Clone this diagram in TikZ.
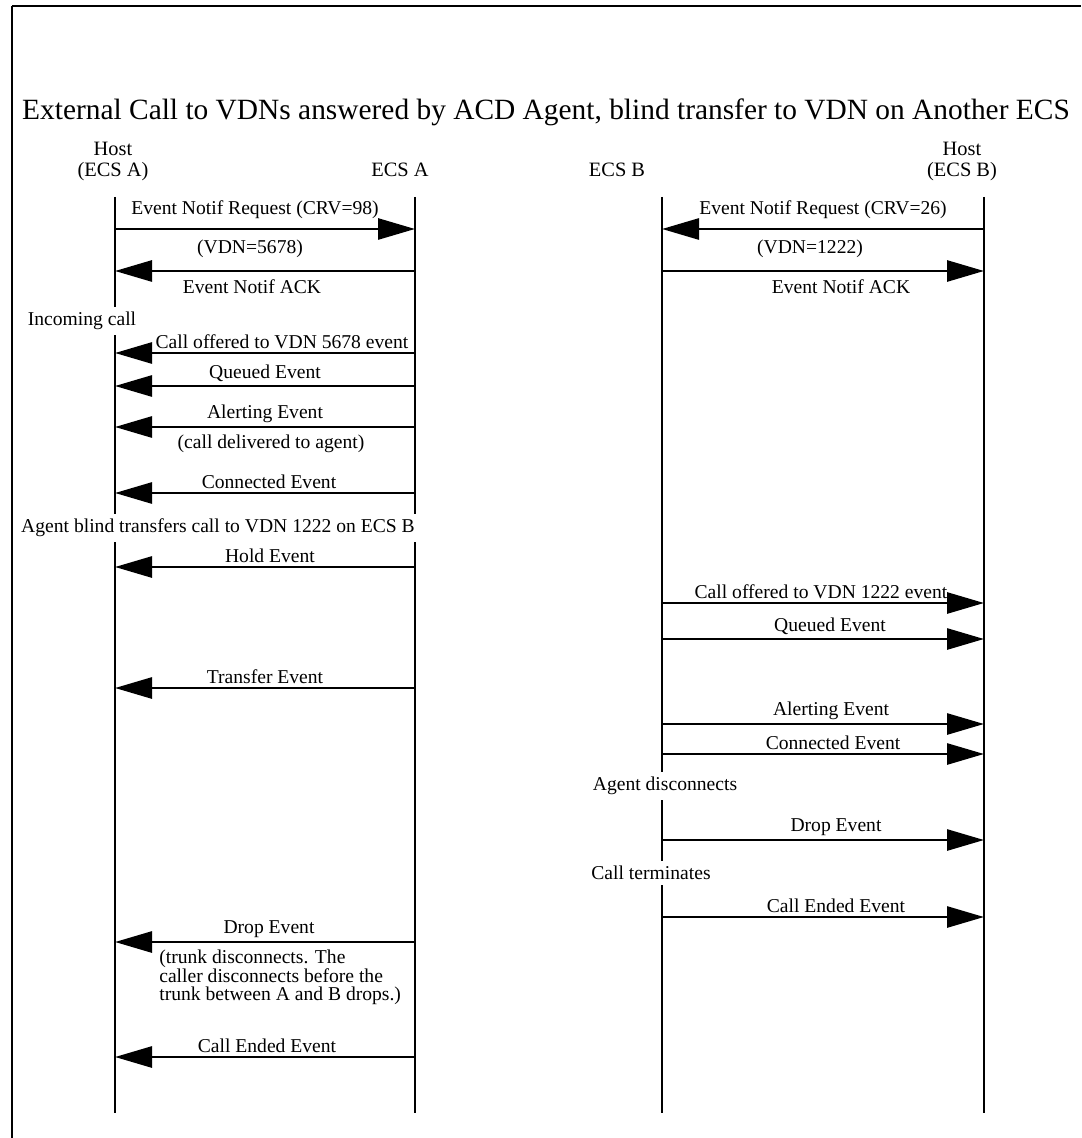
\documentclass[tikz,border=0pt]{standalone}
\usepackage{fontspec}
\setmainfont{Liberation Serif}
\usepackage{tikz}
\usetikzlibrary{arrows.meta,positioning}
\newcommand{\lblfont}{\fontsize{9.8}{8.8}\selectfont}
\tikzset{
  sqhead/.style={align=center,font=\fontsize{10.2}{10.5}\selectfont,inner sep=0pt},
  sqlife/.style={line width=1.4pt},
  sqmsg/.style={-{Triangle[length=18.5pt,width=10.5pt]},line width=1.4pt},
  sqlbl/.style={font=\lblfont,inner sep=1.5pt},
  sqnote/.style={font=\lblfont,fill=white,inner sep=2.5pt},
}

\begin{document}
\begin{tikzpicture}[x=0.5pt,y=-0.5pt]
\useasboundingbox (0,0) rectangle (1081,1138);
% frame
\draw[line width=1.4pt] (12,6) -- (1081,6);
\draw[line width=0.65pt] (12,6) -- (12,1138);
\node[font=\fontsize{14.7}{14.7}\selectfont] (title) at (546,112)
  {External Call to VDNs answered by ACD Agent, blind transfer to VDN on Another ECS};
% heads and lifelines
\node[sqhead] (hostA) at (113,161) {Host\\(ECS A)};
\node[sqhead] (ecsA) at (400,170) {ECS A};
\node[sqhead] (ecsB) at (617,170) {ECS B};
\node[sqhead] (hostB) at (962,161) {Host\\(ECS B)};
\coordinate (hA) at (115,197);
\coordinate (eA) at (415,197);
\coordinate (eB) at (662,197);
\coordinate (hB) at (984,197);
\coordinate (bot) at (0,1113);
\foreach \l in {hA,eA,eB,hB}
  \draw[sqlife] (\l) -- (\l |- bot);
% message rows
\foreach \n/\y in {q1/229,q2/271,a1/353,a2/386,a3/427,a4/493,a5/567,a6/688,a7/942,a8/1057,
                   b1/603,b2/639,b3/724,b4/754,b5/840,b6/917}
  \coordinate (\n) at (0,\y);
% ECS A side
\draw[sqmsg] (hA |- q1) -- node[sqlbl,above,xshift=-5pt,yshift=3pt]{Event Notif Request (CRV=98)}
  node[sqlbl,below=3.5pt,xshift=-7.5pt]{(VDN=5678)} (eA |- q1);
\draw[sqmsg] (eA |- q2) -- node[sqlbl,below=2pt,xshift=-6.5pt]{Event Notif ACK} (hA |- q2);
\draw[sqmsg] (eA |- a1) -- node[sqlbl,above,xshift=8.5pt]{Call offered to VDN 5678 event} (hA |- a1);
\draw[sqmsg] (eA |- a2) -- node[sqlbl,above]{Queued Event} (hA |- a2);
\draw[sqmsg] (eA |- a3) -- node[sqlbl,above]{Alerting Event}
  node[sqlbl,below=1.5pt,xshift=3pt]{(call delivered to agent)} (hA |- a3);
\draw[sqmsg] (eA |- a4) -- node[sqlbl,above,xshift=2pt]{Connected Event} (hA |- a4);
\draw[sqmsg] (eA |- a5) -- node[sqlbl,above,xshift=2.5pt]{Hold Event} (hA |- a5);
\draw[sqmsg] (eA |- a6) -- node[sqlbl,above]{Transfer Event} (hA |- a6);
\draw[sqmsg] (eA |- a7) -- node[sqlbl,above,xshift=2pt]{Drop Event}
  node[sqlbl,pos=0.867,anchor=north west,align=left,yshift=-1.5pt]
  {(trunk disconnects. The\\caller disconnects before the\\trunk between A and B drops.)} (hA |- a7);
\draw[sqmsg] (eA |- a8) -- node[sqlbl,above,xshift=1pt]{Call Ended Event} (hA |- a8);
% ECS B side
\draw[sqmsg] (hB |- q1) -- node[sqlbl,above,yshift=3pt]{Event Notif Request (CRV=26)}
  node[sqlbl,below=3.5pt,xshift=-6.5pt]{(VDN=1222)} (eB |- q1);
\draw[sqmsg] (eB |- q2) -- node[sqlbl,below=2pt,xshift=9pt]{Event Notif ACK} (hB |- q2);
\draw[sqmsg] (eB |- b1) -- node[sqlbl,above,xshift=-1pt]{Call offered to VDN 1222 event} (hB |- b1);
\draw[sqmsg] (eB |- b2) -- node[sqlbl,above,xshift=3.5pt]{Queued Event} (hB |- b2);
\draw[sqmsg] (eB |- b3) -- node[sqlbl,above,xshift=4pt]{Alerting Event} (hB |- b3);
\draw[sqmsg] (eB |- b4) -- node[sqlbl,above,xshift=5pt]{Connected Event} (hB |- b4);
\draw[sqmsg] (eB |- b5) -- node[sqlbl,above,xshift=6.5pt]{Drop Event} (hB |- b5);
\draw[sqmsg] (eB |- b6) -- node[sqlbl,above,xshift=6.5pt]{Call Ended Event} (hB |- b6);
% notes over the lifelines
\node[sqnote] (incall) at (82,321) {Incoming call};
\node[sqnote] (blind) at (218,528) {Agent blind transfers call to VDN 1222 on ECS B};
\node[sqnote] (agdisc) at (665,786) {Agent disconnects};
\node[sqnote] (callterm) at (651,873) {Call terminates};
\end{tikzpicture}
\end{document}
